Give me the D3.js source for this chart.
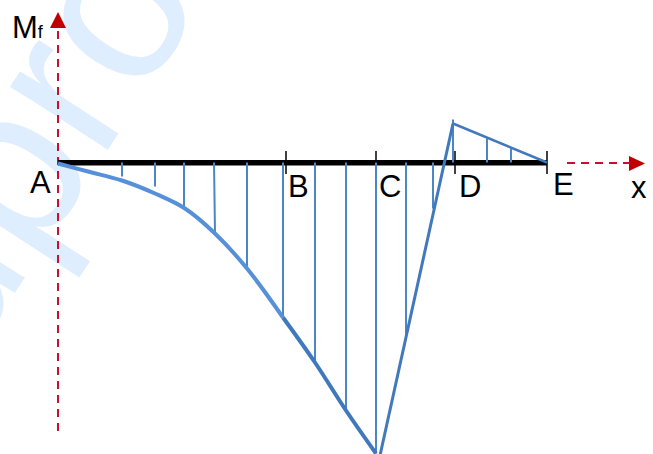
<!DOCTYPE html>
<html lang="en">
<head>
<meta charset="utf-8">
<title>Mf diagram</title>
<script src="https://d3js.org/d3.v7.min.js"></script>
<style>
  html, body { margin: 0; padding: 0; background: #fff; overflow: hidden; }
  svg { display: block; }
  text { font-family: "Liberation Sans", Arial, sans-serif; fill: #000; }
</style>
</head>
<body>
<div id="my_dataviz"></div>
<script>

// beam stations, x measured from A
var stationNames = ["B", "C", "D", "E"];
var stationX = [228, 318, 397, 489];

// moment curve, first part (A to B) and second part (B to the bottom)
var curveAX = [0, 30, 64, 97, 127, 157, 189, 225];
var curveAM = [-1, -9, -18, -31, -46, -71, -106, -155];
var curveBX = [225, 257, 288, 318];
var curveBM = [-155, -200, -248, -291];

// straight jump up to the peak, then back down to E
var jumpX = [322, 395];
var jumpM = [-293, 39];
var fallX = [395, 489];
var fallM = [39, 0];

// hatch lines: station at the beam, station at the lower end, moment reached
var hatchX = [64, 97, 126, 156, 189, 225, 257, 288, 318, 348, 375, 395, 429, 453];
var hatchEndX = [64, 97, 126, 157, 189, 225, 257, 288, 318, 348, 375, 395, 429, 453];
var hatchM = [-14, -24, -45, -70, -104, -154, -199, -247, -291, -175, -46, 43, 24, 14];

// set the dimensions of the graph
var width = 653, height = 454;

var x = d3.scaleLinear().domain([0, 489]).range([58, 547]);
var y = d3.scaleLinear().domain([0, -291]).range([162.5, 453.5]);

var line = d3.line()
    .x(function(d) { return x(d[0]); })
    .y(function(d) { return y(d[1]); });

var smooth = d3.line()
    .curve(d3.curveCatmullRom)
    .x(function(d) { return x(d[0]); })
    .y(function(d) { return y(d[1]); });

var svg = d3.select("#my_dataviz").append("svg")
    .attr("width", width)
    .attr("height", height);

// watermark
svg.append("text")
    .attr("transform", "translate(109,148) rotate(-57)")
    .attr("x", -262)
    .attr("font-size", 220)
    .style("fill", "#DFEEFE")
    .text("upro");

// red arrow heads
var red = "#C00000";
svg.append("path").attr("d", "M58,12L66,28L50,28Z").attr("fill", red);
svg.append("path").attr("d", "M645,163.5L629,156L629,171Z").attr("fill", red);

// dashed axes
svg.append("line")
    .attr("x1", 58).attr("x2", 58).attr("y1", 431).attr("y2", 28)
    .attr("stroke", "#C8102E").attr("stroke-width", 2)
    .attr("stroke-dasharray", "8,6");
svg.append("line")
    .attr("x1", 567).attr("x2", 630).attr("y1", 163).attr("y2", 163)
    .attr("stroke", "#C8102E").attr("stroke-width", 2)
    .attr("stroke-dasharray", "8,6");

// beam
svg.append("line")
    .attr("x1", x(0)).attr("x2", x(489)).attr("y1", 162.8).attr("y2", 162.8)
    .attr("stroke", "#000").attr("stroke-width", 5.5);

svg.selectAll(".tick-mark")
    .data(stationX)
    .enter().append("line")
    .attr("class", "tick-mark")
    .attr("x1", function(d) { return x(d); })
    .attr("x2", function(d) { return x(d); })
    .attr("y1", 151)
    .attr("y2", 174)
    .attr("stroke", "#000")
    .attr("stroke-width", 1.5);

// hatch
svg.selectAll(".hatch")
    .data(hatchX)
    .enter().append("line")
    .attr("class", "hatch")
    .attr("x1", function(d) { return x(d); })
    .attr("x2", function(d, i) { return x(hatchEndX[i]); })
    .attr("y1", y(0))
    .attr("y2", function(d, i) { return y(hatchM[i]); })
    .attr("stroke", "#4A86C8")
    .attr("stroke-width", 2);

// moment diagram
svg.append("path")
    .datum(d3.zip(curveAX, curveAM))
    .attr("d", smooth)
    .attr("fill", "none")
    .attr("stroke", "#5590D8")
    .attr("stroke-width", 4);

svg.append("path")
    .datum(d3.zip(curveBX, curveBM))
    .attr("d", smooth)
    .attr("fill", "none")
    .attr("stroke", "#3F78BC")
    .attr("stroke-width", 4);

svg.append("path")
    .datum(d3.zip(jumpX, jumpM))
    .attr("d", line)
    .attr("fill", "none")
    .attr("stroke", "#4279BC")
    .attr("stroke-width", 3);

svg.append("path")
    .datum(d3.zip(fallX, fallM))
    .attr("d", line)
    .attr("fill", "none")
    .attr("stroke", "#4279BC")
    .attr("stroke-width", 2.5);

// labels
var mf = svg.append("text").attr("x", 12).attr("y", 38).attr("font-size", 31);
mf.append("tspan").text("M");
mf.append("tspan").attr("font-size", 18).text("f");

svg.append("text").attr("x", 30).attr("y", 193).attr("font-size", 31).text("A");
svg.append("text").attr("x", 631).attr("y", 198).attr("font-size", 31).text("x");

var labelX = [288, 379, 459, 553];
var labelY = [197, 197, 197, 195];
svg.selectAll(".station")
    .data(stationNames)
    .enter().append("text")
    .attr("class", "station")
    .attr("x", function(d, i) { return labelX[i]; })
    .attr("y", function(d, i) { return labelY[i]; })
    .attr("font-size", 31)
    .text(function(d) { return d; });

</script>
</body>
</html>
